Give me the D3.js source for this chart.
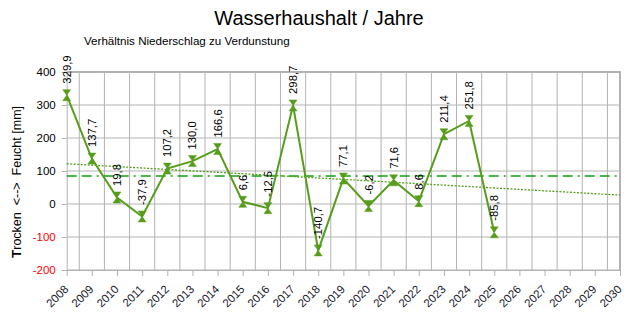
<!DOCTYPE html>
<html><head><meta charset="utf-8">
<script src="https://cdn.jsdelivr.net/npm/d3@7/dist/d3.min.js"></script>
<style>
body{margin:0;background:#fff}
svg{display:block;font-family:"Liberation Sans",Arial,sans-serif}
</style>
</head><body>
<svg id="c" width="644" height="331"></svg>
<script>
const axisYears = ["2008","2009","2010","2011","2012","2013","2014","2015","2016","2017","2018","2019","2020","2021","2022","2023","2024","2025","2026","2027","2028","2029","2030"];
const dataYears = ["2008","2009","2010","2011","2012","2013","2014","2015","2016","2017","2018","2019","2020","2021","2022","2023","2024","2025"];
const values = [329.9,137.7,19.8,-37.9,107.2,130.0,166.6,6.6,-12.5,298.7,-140.7,77.1,-6.2,71.6,8.6,211.4,251.8,-85.8];
const valueLabels = ["329,9","137,7","19,8","-37,9","107,2","130,0","166,6","6,6","-12,5","298,7","-140,7","77,1","-6,2","71,6","8,6","211,4","251,8","-85,8"];
const yTicks = [-200,-100,0,100,200,300,400];
const meanValue = 85;
const trendYears = ["2008","2030"];
const trendValues = [122, 27];

const seriesColor = "#579d1c";
const meanColor = "#10a010";
const gridColor = "#b3b3b3";

const svg = d3.select("#c");
const pLeft = 66.7, pRight = 620, pTop = 72, pBottom = 270;
const x = d3.scalePoint().domain(axisYears).range([pLeft, pRight]);
const y = d3.scaleLinear().domain([-200, 400]).range([pBottom, pTop]);

// title
svg.append("text").attr("x", 319).attr("y", 25).attr("text-anchor", "middle")
  .attr("font-size", 20).attr("fill", "#000").text("Wasserhaushalt / Jahre");
svg.append("text").attr("x", 84).attr("y", 45).attr("font-size", 11.6)
  .attr("fill", "#000").text("Verhältnis Niederschlag zu Verdunstung");

// grid
const g = svg.append("g");
g.selectAll(".hg").data(yTicks).join("line")
  .attr("x1", pLeft).attr("x2", pRight)
  .attr("y1", d => y(d)).attr("y2", d => y(d))
  .attr("stroke", gridColor).attr("stroke-width", 1);
const mids = axisYears.slice(1).map((yr, i) => (x(axisYears[i]) + x(yr)) / 2);
g.selectAll(".vg").data(mids).join("line")
  .attr("x1", d => d).attr("x2", d => d)
  .attr("y1", pTop).attr("y2", pBottom)
  .attr("stroke", gridColor).attr("stroke-width", 1);
svg.append("line").attr("x1", pLeft).attr("x2", pRight + 1).attr("y1", pTop).attr("y2", pTop)
  .attr("stroke", gridColor).attr("stroke-width", 2);
svg.append("line").attr("x1", pRight).attr("x2", pRight).attr("y1", pTop).attr("y2", pBottom)
  .attr("stroke", gridColor).attr("stroke-width", 2);

// axes
const ya = svg.append("g").attr("transform", `translate(${pLeft},0)`)
  .call(d3.axisLeft(y).tickValues(yTicks).tickSize(5).tickPadding(6).tickFormat(d => String(d)));
ya.select(".domain").attr("stroke", gridColor);
ya.selectAll(".tick line").attr("stroke", gridColor);
ya.selectAll(".tick text").attr("font-size", 11.5).attr("font-family", "Liberation Sans, Arial, sans-serif")
  .attr("fill", d => d < 0 ? "#ff0000" : "#000");

const xa = svg.append("g").attr("transform", `translate(0,${pBottom})`)
  .call(d3.axisBottom(x).tickSize(6).tickSizeOuter(0));
xa.select(".domain").attr("stroke", gridColor);
xa.selectAll(".tick line").attr("stroke", gridColor);
xa.selectAll(".tick text").attr("font-size", 11.5).attr("font-family", "Liberation Sans, Arial, sans-serif")
  .attr("fill", "#1a1a2e").attr("text-anchor", "end")
  .attr("transform", "translate(2,20) rotate(-45)").attr("x", 0).attr("y", 0).attr("dy", 0);

// y title
const yt = svg.append("text").attr("transform", "translate(21,182) rotate(-90)")
  .attr("text-anchor", "middle").attr("font-size", 12.5).attr("fill", "#000")
  .style("white-space", "pre");
yt.append("tspan").attr("font-weight", "bold").attr("font-size", 13.5).text("T");
yt.append("tspan").text("rocken  <-->  Feucht [mm]");

// mean line (dash-dot)
svg.append("line").attr("x1", pLeft).attr("x2", pRight)
  .attr("y1", y(meanValue)).attr("y2", y(meanValue))
  .attr("stroke", meanColor).attr("stroke-width", 1.5)
  .attr("stroke-dasharray", "10,5,10,5,2,5");

// trend line (dotted)
svg.append("line").attr("x1", x(trendYears[0])).attr("x2", x(trendYears[1]))
  .attr("y1", y(trendValues[0])).attr("y2", y(trendValues[1]))
  .attr("stroke", seriesColor).attr("stroke-width", 1.3)
  .attr("stroke-dasharray", "2,1.5");

// series line
const pts = dataYears.map((yr, i) => [x(yr), y(values[i])]);
svg.append("path").attr("d", d3.line()(pts)).attr("fill", "none")
  .attr("stroke", seriesColor).attr("stroke-width", 2);

// markers (hourglass)
svg.selectAll(".mk").data(pts).join("path")
  .attr("transform", d => `translate(${d[0]},${d[1]})`)
  .attr("d", "M-4,-5.5L4,-5.5L-4,5.5L4,5.5Z")
  .attr("fill", seriesColor).attr("stroke", seriesColor).attr("stroke-width", 0.5);

// data labels
svg.selectAll(".dl").data(pts).join("text")
  .attr("transform", d => `translate(${d[0] + 4},${d[1] - 11.5}) rotate(-90)`)
  .attr("font-size", 11.3).attr("fill", "#000")
  .text((d, i) => valueLabels[i]);
</script>
</body></html>
